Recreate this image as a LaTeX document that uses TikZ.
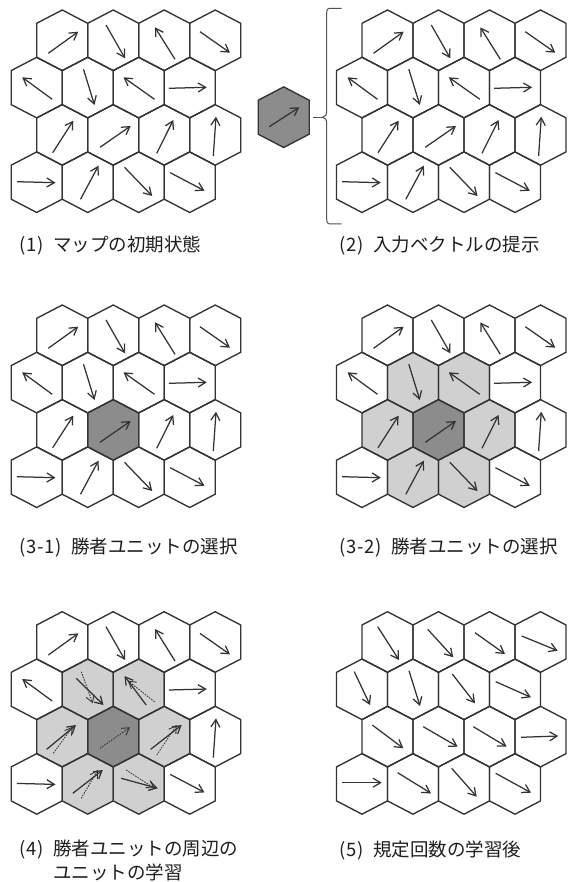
\documentclass[tikz,border=0pt]{standalone}
\usepackage{fontspec}
\newfontfamily\jpfont{Noto Sans CJK JP}
\usetikzlibrary{arrows.meta,calc}
\definecolor{ink}{HTML}{333333}
\definecolor{winner}{HTML}{8C8C8C}
\definecolor{neigh}{HTML}{D0D0D0}
\definecolor{txt}{HTML}{1E1E1E}
\newcommand\hw[1]{\makebox[9pt][c]{#1}}
\newcommand\numtag[1]{\hw{(}#1\hw{)}\hspace{8pt}}

\tikzset{
  hexcell/.pic={\path[pic actions] (0,-30.3) -- (25.5,-17) -- (25.5,17) -- (0,30.3) -- (-25.5,17) -- (-25.5,-17) -- cycle;},
  hexoutline/.style={draw=ink, line width=1.35pt},
  vec/.style={draw=ink, line width=1.25pt, -{Straight Barb[length=7.5pt, width=9pt]}},
  oldvec/.style={draw=ink, line width=0.9pt, dash pattern=on 1.5pt off 1.2pt, -{Straight Barb[length=7pt, width=8.5pt]}},
  lbl/.style={anchor=west, inner sep=0pt, font=\jpfont\fontsize{18.5pt}{22pt}\selectfont, text=txt},
  bracestyle/.style={draw=ink!85, line width=1pt},
}

\newcommand\mkpanel[3]{%
  \foreach \rr in {0,...,3}{\foreach \cc in {0,...,3}{%
    \pgfmathsetmacro\hx{#2+51*\cc-25.5*mod(\rr,2)}%
    \pgfmathsetmacro\hy{#3+47.3*\rr}%
    \coordinate (#1-\rr-\cc) at (\hx,\hy);
  }}}
\newcommand\outlines[1]{%
  \foreach \rr in {0,...,3}{\foreach \cc in {0,...,3}{%
    \pic[hexoutline] at (#1-\rr-\cc) {hexcell};
  }}}
\newcommand\drawvecs[3]{%
  \foreach \rr/\cc/\xa/\ya/\xb/\yb in #3 {%
    \draw[#2] ($(#1-\rr-\cc)+(\xa,\ya)$) -- ($(#1-\rr-\cc)+(\xb,\yb)$);
  }}

\def\initvecs{0/0/-13.9/13/16.1/-8.6, 0/1/-7.2/-15.3/11.8/18, 0/2/10.8/19/-9.2/-13, 0/3/-15.2/-8.6/14.8/12.4,
 1/0/15.5/11.7/-14.5/-10.3, 1/1/-4.2/-18.3/6.8/17.4, 1/2/15.8/11.7/-15.2/-10.3, 1/3/-20.9/0.7/17.1/-0.3,
 2/0/-9.5/17.8/11.1/-14.2, 2/1/-13.2/12.4/17.5/-8.9, 2/2/-7.5/18.4/9.1/-14.9, 2/3/-1.9/21.1/0.8/-18.2,
 3/0/-19.9/-0.5/18.8/0.5, 3/1/-7.2/17.1/10.8/-16.5, 3/2/-14.2/-14.9/13.5/13.8, 3/3/-19.5/-9.5/14.8/8.5}

\def\outervecs{0/0/-13.9/13/16.1/-8.6, 0/1/-7.2/-15.3/11.8/18, 0/2/10.8/19/-9.2/-13, 0/3/-15.2/-8.6/14.8/12.4,
 1/0/15.5/11.7/-14.5/-10.3, 1/3/-20.9/0.7/17.1/-0.3, 2/3/-1.9/21.1/0.8/-18.2,
 3/0/-19.9/-0.5/18.8/0.5, 3/3/-19.5/-9.5/14.8/8.5}

\def\newvecs{1/1/-11.5/-11/15.8/15.7, 1/2/7.5/15.7/-14.2/-13.3, 2/0/-15.5/12.7/13.8/-11.6,
 2/2/-13.5/12.7/17.5/-11.6, 3/1/-14.9/9.4/15.1/-13.9, 3/2/-17.5/-5.6/19.1/4.4}

\def\prevvecs{1/1/-6.5/-17.6/5.1/14, 1/2/15.8/12.4/-10.9/-8.6, 2/0/-8.9/16.7/10.5/-9.9,
 2/1/-13.2/11.7/16.8/-9.3, 2/2/-7.5/18.4/12.5/-11.6, 3/1/-6.5/14.4/10.1/-13.9, 3/2/-12.5/-13.9/15.8/4.4}

\def\finalvecs{0/0/-9.8/-15.3/11.5/18, 0/1/-10.8/-12.7/14.8/15.3, 0/2/-14.5/-9.3/15.5/12, 0/3/-18.8/-6/17.2/8.7,
 1/0/-7.7/-17.6/8/15.7, 1/1/-4/-18.6/7/16.7, 1/2/-11.7/-15.3/11/14, 1/3/-19.3/-7.6/16/8,
 2/0/-15.2/-11.6/15.8/11.7, 2/1/-15.2/-9.9/19.2/10.1, 2/2/-16.2/-9.9/17.2/10.1, 2/3/-19.5/0.7/17.8/-0.6,
 3/0/-19.7/-1.2/19.7/-1.2, 3/1/-15.3/-11.2/18/9.4, 3/2/-12.3/-15.6/12.7/12.8, 3/3/-19.3/-10.6/16/8.8}

\begin{document}
\begin{tikzpicture}[x=1pt, y=-1pt]
\fill[white] (0,0) rectangle (570,882);
\useasboundingbox (0,0) rectangle (570,882);

% panel origins
\mkpanel{A}{62.2}{40.3}
\mkpanel{B}{387.5}{40.3}
\mkpanel{C}{62.2}{335.3}
\mkpanel{D}{387.5}{335.3}
\mkpanel{E}{62.2}{642}
\mkpanel{F}{387.5}{642}

% (1)
\outlines{A}
\drawvecs{A}{vec}{\initvecs}

% (2)
\outlines{B}
\drawvecs{B}{vec}{\initvecs}
\coordinate (inp) at (283.7,117.2);
\pic[fill=winner, hexoutline] at (inp) {hexcell};
\draw[vec] ($(inp)+(-14.4,9.5)$) -- ($(inp)+(15.6,-9.9)$);
\coordinate (stub) at (313.3,117.3);
\coordinate (tip) at (322.3,117.3);
\draw[bracestyle] (stub) -- (tip);
\draw[bracestyle] (341.7,8.3) -- (331,8.3) .. controls (327.5,8.3) and (326.7,9.5) .. (326.7,13)
  -- (326.7,111) .. controls (326.7,115) and (325,117.3) .. (tip)
  .. controls (325,117.3) and (326.7,119.6) .. (326.7,123.6)
  -- (326.7,219) .. controls (326.7,222.5) and (327.5,224) .. (331,224) -- (341.7,224);

% (3-1)
\pic[fill=winner] at (C-2-1) {hexcell};
\outlines{C}
\drawvecs{C}{vec}{\initvecs}

% (3-2)
\foreach \rr/\cc in {1/1,1/2,2/0,2/2,3/1,3/2}{\pic[fill=neigh] at (D-\rr-\cc) {hexcell};}
\pic[fill=winner] at (D-2-1) {hexcell};
\outlines{D}
\drawvecs{D}{vec}{\initvecs}

% (4)
\foreach \rr/\cc in {1/1,1/2,2/0,2/2,3/1,3/2}{\pic[fill=neigh] at (E-\rr-\cc) {hexcell};}
\pic[fill=winner] at (E-2-1) {hexcell};
\outlines{E}
\drawvecs{E}{vec}{\outervecs}
\drawvecs{E}{oldvec}{\prevvecs}
\drawvecs{E}{vec}{\newvecs}

% (5)
\outlines{F}
\drawvecs{F}{vec}{\finalvecs}

% labels
\node[lbl] (l1) at (18,245.5) {\numtag{\hw{1}}マップの初期状態};
\node[lbl] (l2) at (338,245.5) {\numtag{\hw{2}}入力ベクトルの提示};
\node[lbl] (l31) at (18,548) {\numtag{\hw{3}\hw{-}\hw{1}}勝者ユニットの選択};
\node[lbl] (l32) at (338,548) {\numtag{\hw{3}\hw{-}\hw{2}}勝者ユニットの選択};
\node[lbl] (l4) at (18,850) {\numtag{\hw{4}}勝者ユニットの周辺の};
\node[lbl] (l4b) at (53,872) {ユニットの学習};
\node[lbl] (l5) at (338,850) {\numtag{\hw{5}}規定回数の学習後};
\end{tikzpicture}
\end{document}
